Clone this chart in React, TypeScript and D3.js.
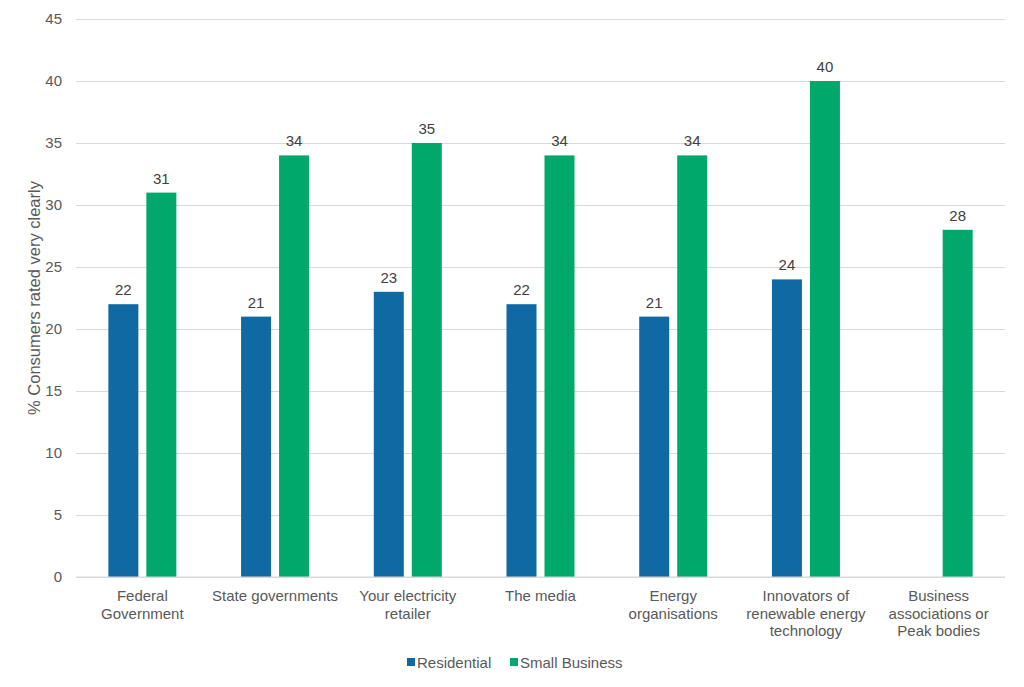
import React, { useEffect, useRef } from "react";
import * as d3 from "d3";

const categories = [
  ["Federal", "Government"],
  ["State governments"],
  ["Your electricity", "retailer"],
  ["The media"],
  ["Energy", "organisations"],
  ["Innovators of", "renewable energy", "technology"],
  ["Business", "associations or", "Peak bodies"],
];
const residential: (number | null)[] = [22, 21, 23, 22, 21, 24, null];
const smallBusiness: (number | null)[] = [31, 34, 35, 34, 34, 40, 28];
const seriesNames = ["Residential", "Small Business"];
const yTicks = [0, 5, 10, 15, 20, 25, 30, 35, 40, 45];

const W = 1024;
const H = 687;
const colors = ["#0f69a3", "#00a86b"];
const textColor = "#595959";
const font = "'Liberation Sans', Arial, sans-serif";

export default function App() {
  const svgRef = useRef<SVGSVGElement | null>(null);

  useEffect(() => {
    if (!svgRef.current) return;
    const svg = d3.select(svgRef.current);
    svg.selectAll("*").remove();

    const margin = { top: 19, right: 19, bottom: 110, left: 76 };
    const innerW = W - margin.left - margin.right;
    const innerH = H - margin.top - margin.bottom;

    const idx = categories.map((_, i) => String(i));
    const x = d3.scaleBand().domain(idx).range([0, innerW]).paddingInner(0).paddingOuter(0);
    // two 30px bars with an 8px gap, centred in each category
    const x1 = d3.scaleBand().domain(seriesNames).range([x.bandwidth() / 2 - 34, x.bandwidth() / 2 + 34]).paddingInner(8 / 38);
    const y = d3.scaleLinear().domain([0, 45]).range([innerH, 0]);

    const g = svg.append("g").attr("transform", `translate(${margin.left},${margin.top})`);

    // grid
    g.append("g")
      .call(d3.axisLeft(y).tickValues(yTicks).tickSize(-innerW).tickFormat(() => ""))
      .call((a) => {
        a.select(".domain").remove();
        a.selectAll(".tick line").attr("stroke", "#d9d9d9").attr("stroke-width", 1);
      });

    // y labels
    g.append("g")
      .call(d3.axisLeft(y).tickValues(yTicks).tickSize(0).tickPadding(14))
      .call((a) => {
        a.select(".domain").remove();
        a.selectAll(".tick text")
          .attr("fill", textColor)
          .style("font-family", font)
          .style("font-size", "15px");
      });

    const series = [residential, smallBusiness];
    series.forEach((vals, s) => {
      const data = vals.map((v, i) => ({ v, i })).filter((d) => d.v !== null) as { v: number; i: number }[];
      g.selectAll(`.bar-${s}`)
        .data(data)
        .join("rect")
        .attr("x", (d) => (x(String(d.i)) as number) + (x1(seriesNames[s]) as number))
        .attr("y", (d) => y(d.v))
        .attr("width", x1.bandwidth())
        .attr("height", (d) => innerH - y(d.v))
        .attr("fill", colors[s]);

      g.selectAll(`.lbl-${s}`)
        .data(data)
        .join("text")
        .attr("x", (d) => (x(String(d.i)) as number) + (x1(seriesNames[s]) as number) + x1.bandwidth() / 2)
        .attr("y", (d) => y(d.v) - 9)
        .attr("text-anchor", "middle")
        .attr("fill", "#404040")
        .style("font-family", font)
        .style("font-size", "15px")
        .text((d) => d.v);
    });

    // baseline
    g.append("line")
      .attr("x1", 0)
      .attr("x2", innerW)
      .attr("y1", innerH)
      .attr("y2", innerH)
      .attr("stroke", "#d9d9d9");

    // category labels
    categories.forEach((lines, i) => {
      const cx = (x(String(i)) as number) + x.bandwidth() / 2;
      const t = g.append("text")
        .attr("x", cx)
        .attr("y", innerH + 24)
        .attr("text-anchor", "middle")
        .attr("fill", textColor)
        .style("font-family", font)
        .style("font-size", "15px");
      lines.forEach((l, j) => {
        t.append("tspan")
          .attr("x", cx)
          .attr("dy", j === 0 ? 0 : 17.5)
          .text(l);
      });
    });

    // y title
    svg.append("text")
      .attr("transform", `translate(40,298) rotate(-90)`)
      .attr("text-anchor", "middle")
      .attr("fill", textColor)
      .style("font-family", font)
      .style("font-size", "16.5px")
      .text("% Consumers rated very clearly");

    // legend
    const legendX = [407, 510];
    seriesNames.forEach((name, s) => {
      svg.append("rect")
        .attr("x", legendX[s])
        .attr("y", 658)
        .attr("width", 8)
        .attr("height", 8)
        .attr("fill", colors[s]);
      svg.append("text")
        .attr("x", legendX[s] + 10)
        .attr("y", 668)
        .attr("fill", textColor)
        .style("font-family", font)
        .style("font-size", "15px")
        .text(name);
    });
  }, []);

  return (
    <svg
      ref={svgRef}
      width={W}
      height={H}
      style={{ position: "absolute", left: 0, top: 0, background: "#fff" }}
    />
  );
}
